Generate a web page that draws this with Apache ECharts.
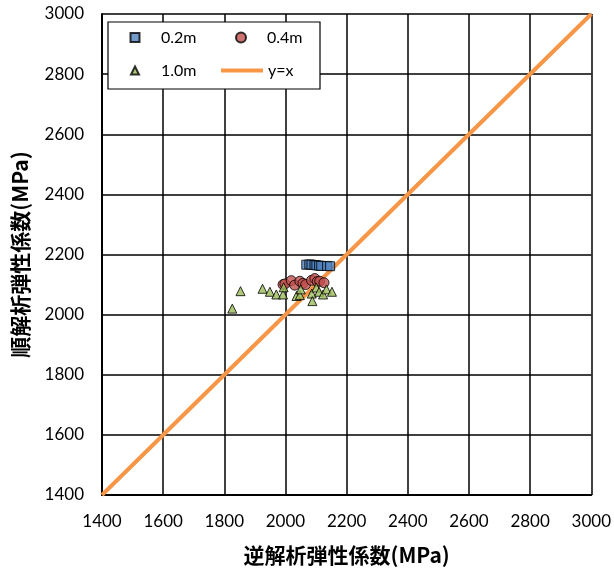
<!DOCTYPE html>
<html>
<head>
<meta charset="utf-8">
<script src="https://cdn.jsdelivr.net/npm/echarts@6/dist/echarts.min.js"></script>
<style>
  html, body { margin: 0; padding: 0; background: #fff; }
  #chart { width: 614px; height: 571px; }
</style>
</head>
<body>
<div id="chart"></div>
<script>
// Back-calculated (x) vs forward-analysis (y) elastic modulus, MPa
const seriesNames = ['0.2m', '0.4m', '1.0m', 'y=x'];
const depth02 = [[2068, 2166], [2078, 2167], [2085, 2166], [2095, 2165], [2101, 2164], [2110, 2163], [2117, 2162], [2136, 2162], [2146, 2161]];
const depth04 = [[1992, 2100], [1998, 2102], [2019, 2113], [2030, 2098], [2047, 2111], [2057, 2104], [2066, 2100], [2085, 2114], [2096, 2120], [2104, 2110], [2112, 2111], [2126, 2106]];
const depth10 = [[1826, 2020], [1853, 2078], [1925, 2086], [1949, 2076], [1970, 2067], [1992, 2067], [1994, 2091], [2036, 2062], [2047, 2065], [2050, 2084], [2086, 2070], [2088, 2045], [2101, 2090], [2110, 2076], [2123, 2067], [2134, 2084], [2152, 2076]];
const identityLine = [[1400, 1400], [3000, 3000]];
const axisMin = 1400, axisMax = 3000, axisStep = 200;

const baseFont = 'Lato, "Open Sans", sans-serif';
const cjkFont = '"Noto Sans CJK JP", sans-serif';

// Legend icons: a small marker centred in a 42x10 box (the leading moves
// fix the bounding box so the marker is not stretched to the icon width)
const ICON_BOX = 'M0,0 M42,10 ';
const iconSquare = 'path://' + ICON_BOX + 'M16.5,0.5 L25.5,0.5 L25.5,9.5 L16.5,9.5 Z';
const iconCircle = 'path://' + ICON_BOX + 'M26,5 A5,5 0 1 1 16,5 A5,5 0 1 1 26,5 Z';
const iconTriangle = 'path://' + ICON_BOX + 'M21,1 L25,9 L17,9 Z';

const chart = echarts.init(document.getElementById('chart'), null, { renderer: 'canvas' });

function axis(name, nameGap) {
  return {
    type: 'value',
    min: axisMin, max: axisMax, interval: axisStep,
    name: name,
    nameLocation: 'middle',
    nameGap: nameGap,
    nameTextStyle: { fontFamily: cjkFont, fontWeight: 'bold', fontSize: 21, color: '#000' },
    axisLine: { show: true, lineStyle: { color: '#000', width: 2 } },
    axisTick: { show: false },
    axisLabel: { fontFamily: baseFont, fontSize: 17, color: '#000', margin: 18, formatter: v => String(v) },
    splitLine: { show: true, lineStyle: { color: '#000', width: 1.5 } }
  };
}

const markerBorder = { borderColor: '#000', borderWidth: 1 };

chart.setOption({
  animation: false,
  backgroundColor: '#fff',
  grid: { left: 102, right: 22, top: 14, bottom: 75, containLabel: false },
  xAxis: axis('逆解析弾性係数(MPa)', 50),
  yAxis: axis('順解析弾性係数(MPa)', 71),
  legend: {
    data: [
      { name: seriesNames[0], icon: iconSquare },
      { name: seriesNames[1], icon: iconCircle },
      { name: seriesNames[2], icon: iconTriangle },
      {
        name: seriesNames[3],
        itemStyle: { opacity: 0, color: 'rgba(0,0,0,0)', borderWidth: 0 },
        lineStyle: { color: '#F79646', width: 4 }
      }
    ],
    left: 108, top: 22,
    width: 200,
    orient: 'horizontal',
    itemWidth: 42, itemHeight: 10,
    itemGap: 16,
    padding: [7, 10, 10, 5],
    backgroundColor: '#fff',
    borderColor: '#000', borderWidth: 1.2, borderRadius: 0,
    textStyle: { fontFamily: baseFont, fontSize: 16, color: '#000', width: 42, lineHeight: 17 }
  },
  series: [
    {
      name: 'y=x', type: 'line', data: identityLine,
      showSymbol: false, symbol: 'none', z: 1,
      lineStyle: { color: '#F79646', width: 4 },
      itemStyle: { color: '#F79646' }
    },
    {
      name: '0.2m', type: 'scatter', data: depth02, symbol: 'rect', symbolSize: 9, z: 2,
      itemStyle: Object.assign({ color: '#4F81BD' }, markerBorder)
    },
    {
      name: '0.4m', type: 'scatter', data: depth04, symbol: 'circle', symbolSize: 10, z: 3,
      itemStyle: Object.assign({ color: '#C0504D' }, markerBorder)
    },
    {
      name: '1.0m', type: 'scatter', data: depth10, symbol: 'triangle', symbolSize: 9, z: 4,
      itemStyle: Object.assign({ color: '#9BBB59' }, markerBorder)
    }
  ]
});
</script>
</body>
</html>
